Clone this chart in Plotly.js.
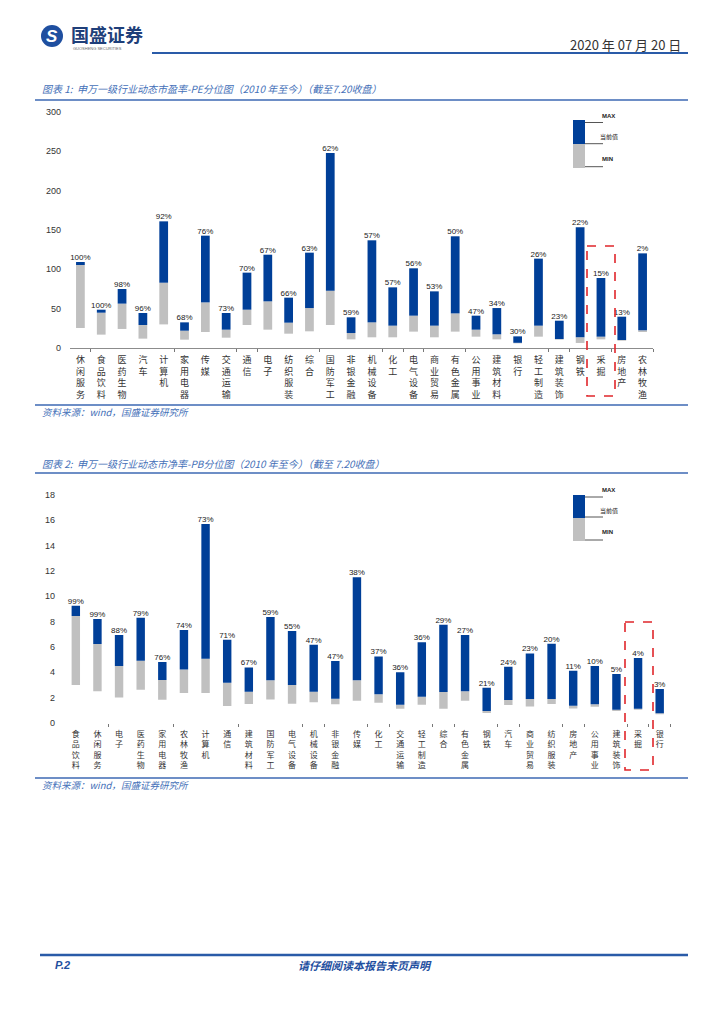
<!DOCTYPE html>
<html><head><meta charset="utf-8">
<script src="https://cdn.plot.ly/plotly-3.0.1.min.js"></script>
<style>html,body{margin:0;padding:0;background:#fff;}#c{width:724px;height:1024px;}</style>
</head><body><div id="c"></div>
<script>
// ---- Chart 1: PE percentile ----
const cats1 = ['休闲服务','食品饮料','医药生物','汽车','计算机','家用电器','传媒','交通运输','通信','电子','纺织服装','综合','国防军工','非银金融','机械设备','化工','电气设备','商业贸易','有色金属','公用事业','建筑材料','银行','轻工制造','建筑装饰','钢铁','采掘','房地产','农林牧渔'];
const max1 = [109.3,48.7,75,44.5,161,32.6,142.8,44.5,95.8,118.6,64,121.2,247.9,39,136.9,77.1,101.3,72,142,41.1,50.8,14.8,113.6,34.7,153.4,89,39.8,120.3];
const cur1 = [105.5,44.9,56.4,29.2,83,22,58,23.3,48.7,59.3,32.2,50.8,72.9,19,32.6,28.4,41.1,28.4,44,23.3,17.4,6.6,28.4,11.4,13.6,14.4,10.2,22.5];
const min1 = [25.4,17,24.2,11.9,30,10.6,20.3,13.1,29.2,23.3,18.2,21.2,29.2,11,13.6,13.6,20.8,13.6,20.8,14.4,11,5.9,14.4,10.6,6.4,11,9.3,20.3];
const pct1 = ['100%','100%','98%','96%','92%','68%','76%','73%','70%','67%','66%','63%','62%','59%','57%','57%','56%','53%','50%','47%','34%','30%','26%','23%','22%','15%','13%','2%'];
const tickBounds1 = [1,5,8,9,12,15,16,17,19,23,24,26,28];

// ---- Chart 2: PB percentile ----
const cats2 = ['食品饮料','休闲服务','电子','医药生物','家用电器','农林牧渔','计算机','通信','建筑材料','国防军工','电气设备','机械设备','非银金融','传媒','化工','交通运输','轻工制造','综合','有色金属','钢铁','汽车','商业贸易','纺织服装','房地产','公用事业','建筑装饰','采掘','银行'];
const max2 = [9.25,8.2,6.93,8.3,4.8,7.33,15.7,6.56,4.37,8.35,7.25,6.17,4.87,11.5,5.24,3.98,6.35,7.75,6.93,2.77,4.43,5.48,6.25,4.11,4.48,3.85,5.11,2.66];
const cur2 = [8.43,6.22,4.48,4.9,3.37,4.2,5.06,3.16,2.45,3.35,2.98,2.45,1.9,3.35,2.24,1.42,2.06,2.42,2.48,0.92,1.79,1.87,1.87,1.34,1.45,1.03,1.1,0.74];
const min2 = [2.98,2.48,2.0,2.6,1.82,2.35,2.35,1.32,1.48,1.84,1.5,1.61,1.45,1.74,1.58,1.1,1.42,1.1,1.74,0.76,1.4,1.29,1.48,1.13,1.26,0.92,1.03,0.66];
const pct2 = ['99%','99%','88%','79%','76%','74%','73%','71%','67%','59%','55%','47%','47%','38%','37%','36%','36%','29%','27%','21%','24%','23%','20%','11%','10%','5%','4%','3%'];
const tickBounds2 = [2,5,8,11,12,14,15,17,18,20,21,23,24,26,27,28];

const BLUE = '#003F98', GRAY = '#C0C0C0', TBLUE = '#4470B8', RULE = '#3D69B3';
const CJK = '"Noto Sans CJK SC", sans-serif';
const NUM = '"Liberation Sans", Arial, sans-serif';
const W = 724, H = 1024;
const X = p => p / W, Y = p => 1 - p / H;
const vert = s => s.split('').join('<br>');

function barTraces(cats, mx, cu, mn, pct, xa, ya, w) {
  return [
    {type:'bar', x:cats, y:cu.map((c,i)=>c-mn[i]), base:mn, width:w, marker:{color:GRAY, line:{width:0}}, xaxis:xa, yaxis:ya, hoverinfo:'skip'},
    {type:'bar', x:cats, y:mx.map((m,i)=>m-cu[i]), base:cu, width:w, marker:{color:BLUE, line:{width:0}}, xaxis:xa, yaxis:ya, hoverinfo:'skip'},
    {type:'scatter', mode:'text', x:cats, y:mx, text:pct, textposition:'top center', cliponaxis:false,
     textfont:{family:NUM, size:8, color:'#222'}, xaxis:xa, yaxis:ya, hoverinfo:'skip'}
  ];
}

const data = [
  ...barTraces(cats1, max1, cur1, min1, pct1, 'x', 'y', 0.42),
  ...barTraces(cats2, max2, cur2, min2, pct2, 'x2', 'y2', 0.39),
  // empty traces so the overlay tick-mark axes get drawn
  {type:'scatter', x:[], y:[], xaxis:'x3', yaxis:'y', hoverinfo:'skip'},
  {type:'scatter', x:[], y:[], xaxis:'x4', yaxis:'y2', hoverinfo:'skip'}
];

const shapes = [];
const ann = [];
function line(x0,y0,x1,y1,color,w,dash){shapes.push({type:'line',xref:'paper',yref:'paper',x0:X(x0),x1:X(x1),y0:Y(y0),y1:Y(y1),line:{color:color,width:w,dash:dash||'solid'}});}
function rect(x0,y0,x1,y1,fill,lc,lw,dash){shapes.push({type:'rect',xref:'paper',yref:'paper',x0:X(x0),x1:X(x1),y0:Y(y0),y1:Y(y1),fillcolor:fill,line:{color:lc||'rgba(0,0,0,0)',width:lw||0,dash:dash||'solid'}});}
function txt(x,y,t,size,color,opts){ann.push(Object.assign({xref:'paper',yref:'paper',x:X(x),y:Y(y),text:t,showarrow:false,xanchor:'left',yanchor:'middle',font:{family:CJK,size:size,color:color}},opts||{}));}

// header
shapes.push({type:'circle',xref:'paper',yref:'paper',x0:X(41),x1:X(63),y0:Y(47),y1:Y(25),fillcolor:'#1F4FA0',line:{width:0}});
txt(52,36,'<b><i>S</i></b>',17,'#fff',{xanchor:'center',font:{family:NUM,size:17,color:'#fff'}});
txt(69,34,'<b>国盛证券</b>',18,'#1F3F7A');
txt(71,48.5,'GUOSHENG SECURITIES',4,'#666',{font:{family:NUM,size:4,color:'#666'}});
txt(683,44,'2020 年 07 月 20 日',13,'#333',{xanchor:'right'});
line(152,53,688,53,'#2A5BA8',2);

// chart 1 frame
txt(40,88,'图表 1:  申万一级行业动态市盈率-PE分位图（2010 年至今）（截至7.20收盘）',10,TBLUE,{font:{family:CJK,size:10,color:TBLUE,style:'italic'}});
line(35,100,688,100,RULE,1.5);
line(35,405,688,405,RULE,1.5);
txt(40,412,'资料来源：wind，国盛证券研究所',9.5,TBLUE,{font:{family:CJK,size:9.5,color:TBLUE,style:'italic'}});

// chart 2 frame
txt(40,463,'图表 2:  申万一级行业动态市净率-PB分位图（2010 年至今）（截至 7.20收盘）',10,TBLUE,{font:{family:CJK,size:10,color:TBLUE,style:'italic'}});
line(35,473,688,473,RULE,1.5);
line(35,778,688,778,RULE,1.5);
txt(40,785,'资料来源：wind，国盛证券研究所',9.5,TBLUE,{font:{family:CJK,size:9.5,color:TBLUE,style:'italic'}});

// legends
function legend(top, mid, bot, yMaxL, yCurL, yMinL, lMax, lCur, lMin) {
  rect(573, top, 585, mid, BLUE);
  rect(573, mid, 585, bot, GRAY);
  line(585, lMax, 603, lMax, '#555', 1);
  line(585, lCur, 603, lCur, '#555', 1);
  line(585, lMin, 603, lMin, '#555', 1);
  txt(600, yMaxL, '<b>MAX</b>', 6, '#222', {font:{family:NUM,size:6,color:'#222'}});
  txt(598, yCurL, '当前值', 6, '#222');
  txt(600, yMinL, '<b>MIN</b>', 6, '#222', {font:{family:NUM,size:6,color:'#222'}});
}
legend(120,144,168,116,136,159,122.5,143.7,166.7);
legend(495,518,541,490,510,532,497,517,540);

// highlight boxes
rect(587,246,615,396,'rgba(0,0,0,0)','#E0262B',1.6,'dash');
rect(625,622,653,770,'rgba(0,0,0,0)','#E0262B',1.6,'dash');

// footer
line(40,955,688,955,'#2A5BA8',2.5);
txt(53,965,'<b><i>P.2</i></b>',11,'#1F4FA0',{font:{family:NUM,size:11,color:'#1F4FA0'}});
txt(365,965,'<b>请仔细阅读本报告末页声明</b>',11,'#1F4FA0',{xanchor:'center',font:{family:CJK,size:11,color:'#1F4FA0',style:'italic'}});

const catAxis = (dom, anchor, cats, size, standoff, showline) => ({
  domain:dom, anchor:anchor, type:'category', range:[-0.5, cats.length-0.5],
  tickmode:'array', tickvals:cats, ticktext:cats.map(vert), ticks:'',
  tickfont:{family:CJK, size:size, color:'#333'}, ticklabelstandoff:standoff,
  showline:showline, linecolor:'#8C8C8C', linewidth:1, showgrid:false, zeroline:false, fixedrange:true
});
const tickAxis = (over, anchor, n, bounds) => ({
  overlaying:over, anchor:anchor, type:'linear', range:[-0.5, n-0.5], autorange:false,
  tickmode:'array', tickvals:bounds.map(b=>b-0.5), showticklabels:false,
  ticks:'outside', ticklen:3, tickcolor:'#777', tickwidth:1, showline:false, showgrid:false, zeroline:false
});
const valAxis = (dom, anchor, rng, dt, standoff) => ({
  domain:dom, anchor:anchor, range:rng, dtick:dt, tick0:0, showgrid:false, zeroline:false, showline:false,
  ticks:'', tickfont:{family:NUM, size:9, color:'#333'}, ticklabelstandoff:standoff, fixedrange:true
});

const layout = {
  width:W, height:H, margin:{l:0,r:0,t:0,b:0}, paper_bgcolor:'#fff', plot_bgcolor:'rgba(0,0,0,0)',
  showlegend:false, barmode:'overlay', font:{family:CJK},
  xaxis: catAxis([X(70), X(653)], 'y', cats1, 9, 3, true),
  yaxis: valAxis([Y(348), Y(112)], 'x', [0,300], 50, 8),
  xaxis2: catAxis([X(65), X(670.5)], 'y2', cats2, 8, 5, false),
  yaxis2: valAxis([Y(722.7), Y(495)], 'x2', [0,18], 2, 9),
  xaxis3: tickAxis('x', 'y', cats1.length, tickBounds1),
  xaxis4: tickAxis('x2', 'y2', cats2.length, tickBounds2),
  shapes:shapes, annotations:ann
};
Plotly.newPlot('c', data, layout, {staticPlot:true, displayModeBar:false});
</script></body></html>
